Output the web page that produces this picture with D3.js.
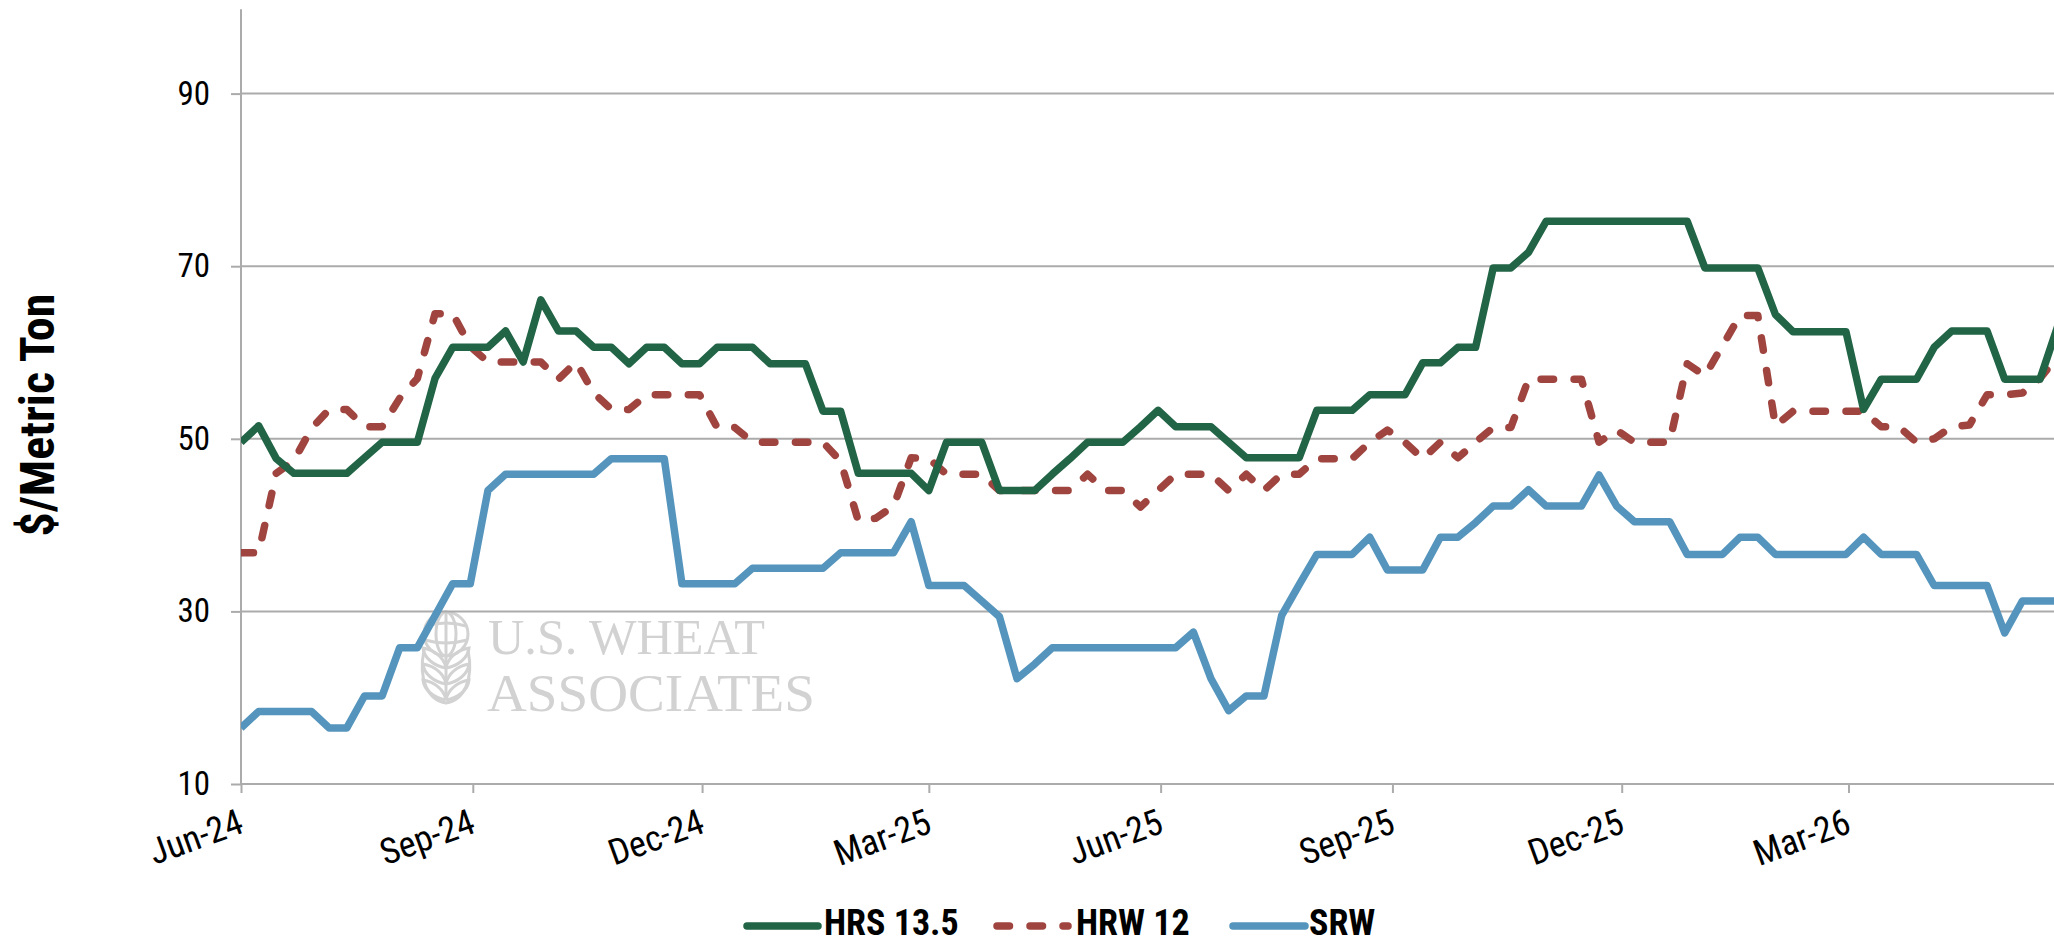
<!DOCTYPE html>
<html>
<head>
<meta charset="utf-8">
<script src="https://cdn.jsdelivr.net/npm/d3@7/dist/d3.min.js"></script>
<style>
  html, body { margin: 0; padding: 0; background: #ffffff; }
  svg { display: block; }
  .narrow { font-family: "Liberation Sans Narrow", "Arial Narrow", "Roboto Condensed", sans-serif; font-stretch: condensed; }
</style>
</head>
<body>
<svg id="chart" width="2054" height="944"></svg>
<script>
// ---------------- data ----------------
const weekDates = [
  "2024-06-01","2024-06-08","2024-06-15","2024-06-22","2024-06-29",
  "2024-07-06","2024-07-13","2024-07-20","2024-07-27",
  "2024-08-03","2024-08-10","2024-08-17","2024-08-24","2024-08-31",
  "2024-09-07","2024-09-14","2024-09-21","2024-09-28",
  "2024-10-05","2024-10-12","2024-10-19","2024-10-26",
  "2024-11-02","2024-11-09","2024-11-16","2024-11-23","2024-11-30",
  "2024-12-07","2024-12-14","2024-12-21","2024-12-28",
  "2025-01-04","2025-01-11","2025-01-18","2025-01-25",
  "2025-02-01","2025-02-08","2025-02-15","2025-02-22",
  "2025-03-01","2025-03-08","2025-03-15","2025-03-22","2025-03-29",
  "2025-04-05","2025-04-12","2025-04-19","2025-04-26",
  "2025-05-03","2025-05-10","2025-05-17","2025-05-24","2025-05-31",
  "2025-06-07","2025-06-14","2025-06-21","2025-06-28",
  "2025-07-05","2025-07-12","2025-07-19","2025-07-26",
  "2025-08-02","2025-08-09","2025-08-16","2025-08-23","2025-08-30",
  "2025-09-06","2025-09-13","2025-09-20","2025-09-27",
  "2025-10-04","2025-10-11","2025-10-18","2025-10-25",
  "2025-11-01","2025-11-08","2025-11-15","2025-11-22","2025-11-29",
  "2025-12-06","2025-12-13","2025-12-20","2025-12-27",
  "2026-01-03","2026-01-10","2026-01-17","2026-01-24","2026-01-31",
  "2026-02-07","2026-02-14","2026-02-21","2026-02-28",
  "2026-03-07","2026-03-14","2026-03-21","2026-03-28",
  "2026-04-04","2026-04-11","2026-04-18","2026-04-25",
  "2026-05-02","2026-05-09","2026-05-16","2026-05-23"
];

const hrs135 = [
  49.6,51.5,47.7,46.0,46.0,46.0,46.0,47.8,49.6,49.6,
  49.6,57.0,60.6,60.6,60.6,62.5,58.9,66.1,62.5,62.5,
  60.6,60.6,58.7,60.6,60.6,58.7,58.7,60.6,60.6,60.6,
  58.7,58.7,58.7,53.2,53.2,46.0,46.0,46.0,46.0,44.0,
  49.6,49.6,49.6,44.0,44.0,44.0,45.9,47.7,49.6,49.6,
  49.6,51.4,53.3,51.4,51.4,51.4,49.6,47.8,47.8,47.8,
  47.8,53.3,53.3,53.3,55.1,55.1,55.1,58.8,58.8,60.6,
  60.6,69.8,69.8,71.6,75.2,75.2,75.2,75.2,75.2,75.2,
  75.2,75.2,75.2,69.8,69.8,69.8,69.8,64.4,62.4,62.4,
  62.4,62.4,53.4,56.9,56.9,56.9,60.6,62.5,62.5,62.5,
  56.9,56.9,56.9,63.0
];

const hrw12 = [
  36.8,36.8,46.0,47.5,51.2,53.4,53.4,51.4,51.4,54.7,
  57.0,64.5,64.5,60.7,58.9,58.9,58.9,58.9,56.9,58.9,
  55.3,53.4,53.4,55.1,55.1,55.1,55.1,51.3,51.3,49.6,
  49.6,49.6,49.6,49.6,47.4,40.5,40.8,42.2,47.8,47.7,
  45.9,45.9,45.9,44.0,44.0,44.0,44.0,44.0,45.9,44.0,
  44.0,42.1,44.0,45.9,45.9,45.9,44.0,45.9,44.0,45.9,
  45.9,47.7,47.7,47.7,49.6,51.0,49.6,47.7,49.6,47.8,
  49.6,51.3,51.3,56.9,56.9,56.9,56.9,49.6,51.0,49.6,
  49.6,49.6,58.7,57.3,60.8,64.3,64.3,51.5,53.2,53.2,
  53.2,53.2,53.2,51.4,51.4,49.6,50.0,51.4,51.6,55.1,
  55.1,55.3,57.0,59.5
];

const srw = [
  16.5,18.4,18.4,18.4,18.4,16.5,16.5,20.2,20.2,25.8,
  25.8,29.5,33.2,33.2,44.0,45.9,45.9,45.9,45.9,45.9,
  45.9,47.7,47.7,47.7,47.7,33.2,33.2,33.2,33.2,35.0,
  35.0,35.0,35.0,35.0,36.8,36.8,36.8,36.8,40.4,33.0,
  33.0,33.0,31.2,29.4,22.2,23.9,25.8,25.8,25.8,25.8,
  25.8,25.8,25.8,25.8,27.6,22.2,18.5,20.2,20.2,29.5,
  33.1,36.6,36.6,36.6,38.6,34.8,34.8,34.8,38.6,38.6,
  40.3,42.2,42.2,44.1,42.2,42.2,42.2,45.8,42.2,40.4,
  40.4,40.4,36.6,36.6,36.6,38.6,38.6,36.6,36.6,36.6,
  36.6,36.6,38.6,36.6,36.6,36.6,33.0,33.0,33.0,33.0,
  27.5,31.2,31.2,31.2
];

const seriesNames = ["HRS 13.5", "HRW 12", "SRW"];
const xTickDates = ["2024-06-01","2024-09-01","2024-12-01","2025-03-01","2025-06-01","2025-09-01","2025-12-01","2026-03-01"];
const xTickLabels = ["Jun-24","Sep-24","Dec-24","Mar-25","Jun-25","Sep-25","Dec-25","Mar-26"];
const yTickValues = [10, 30, 50, 70, 90];
const yTitle = "$/Metric Ton";
const watermarkLines = ["U.S. WHEAT", "ASSOCIATES"];

// ---------------- setup ----------------
const W = 2054, H = 944;
const parse = d3.utcParse("%Y-%m-%d");
const dates = weekDates.map(parse);

const plot = { left: 241, right: 2057.6, top: 7.3, bottom: 784 };
const x = d3.scaleUtc()
  .domain([parse("2024-06-01"), parse("2026-05-23")])
  .range([plot.left, plot.right]);
const y = d3.scaleLinear().domain([10, 100]).range([plot.bottom, plot.top]);

const colors = { "HRS 13.5": "#226446", "HRW 12": "#a0443f", "SRW": "#5595bd" };
const dashes = { "HRS 13.5": null, "HRW 12": "12.5 20.5", "SRW": null };
const valuesByName = { "HRS 13.5": hrs135, "HRW 12": hrw12, "SRW": srw };
const gridColor = "#ababab";
const lineW = 7.5;

const svg = d3.select("#chart");
svg.append("rect").attr("width", W).attr("height", H).attr("fill", "#fff");

// ---------------- watermark ----------------
const wm = svg.append("g").attr("fill", "none").attr("stroke", "#d2d2d2").attr("stroke-width", 3);
wm.append("circle").attr("cx", 446).attr("cy", 634).attr("r", 22);
wm.append("ellipse").attr("cx", 446).attr("cy", 634).attr("rx", 10).attr("ry", 22);
wm.append("line").attr("x1", 446).attr("x2", 446).attr("y1", 612).attr("y2", 700);
wm.append("path").attr("d", "M426,626 Q446,620 466,626");
wm.append("path").attr("d", "M425,640 Q446,646 467,640");
[652, 668, 684].forEach(yy => {
  wm.append("path").attr("d", `M446,${yy + 16} C434,${yy + 14} 424,${yy + 6} 423,${yy - 4} C434,${yy - 2} 444,${yy + 5} 446,${yy + 16}`);
  wm.append("path").attr("d", `M446,${yy + 16} C458,${yy + 14} 468,${yy + 6} 469,${yy - 4} C458,${yy - 2} 448,${yy + 5} 446,${yy + 16}`);
});
wm.append("path").attr("d", "M424,650 C418,680 428,700 446,703 C464,700 474,680 468,650");

const wmG = svg.append("g").attr("fill", "#d2d2d2")
  .attr("font-family", "'Liberation Serif', 'Times New Roman', serif");
wmG.append("text").attr("x", 488).attr("y", 654).attr("font-size", 50)
  .attr("textLength", 277).attr("lengthAdjust", "spacingAndGlyphs").text(watermarkLines[0]);
wmG.append("text").attr("x", 487).attr("y", 711).attr("font-size", 52)
  .attr("textLength", 328).attr("lengthAdjust", "spacingAndGlyphs").text(watermarkLines[1]);

// ---------------- gridlines ----------------
svg.append("g").selectAll("line").data(yTickValues.filter(v => v > 10)).join("line")
  .attr("x1", plot.left).attr("x2", W)
  .attr("y1", d => y(d)).attr("y2", d => y(d))
  .attr("stroke", gridColor).attr("stroke-width", 2);

// ---------------- axes ----------------
const yAxis = svg.append("g").attr("transform", `translate(${plot.left},0)`)
  .call(d3.axisLeft(y).tickValues(yTickValues).tickSize(10).tickPadding(21).tickSizeOuter(0));
yAxis.select(".domain").remove();
yAxis.append("line").attr("x1", 0).attr("x2", 0).attr("y1", plot.top + 2).attr("y2", plot.bottom)
  .attr("stroke", gridColor).attr("stroke-width", 2);
yAxis.selectAll(".tick line").attr("stroke", gridColor).attr("stroke-width", 2);
yAxis.selectAll(".tick text").attr("class", "narrow").attr("font-size", 33).attr("fill", "#000");

const xAxis = svg.append("g").attr("transform", `translate(0,${plot.bottom})`)
  .call(d3.axisBottom(x).tickValues(xTickDates.map(parse)).tickSize(9)
    .tickFormat((d, i) => xTickLabels[i]).tickSizeOuter(0));
xAxis.select(".domain").remove();
xAxis.append("line").attr("x1", plot.left).attr("x2", W).attr("y1", 0).attr("y2", 0)
  .attr("stroke", gridColor).attr("stroke-width", 2);
xAxis.selectAll(".tick line").attr("stroke", gridColor).attr("stroke-width", 2);
xAxis.selectAll(".tick text")
  .attr("class", "narrow").attr("font-size", 36).attr("fill", "#000")
  .attr("text-anchor", "end").attr("y", 0).attr("dy", 0)
  .attr("transform", "translate(4,48) rotate(-20)");

// y title
svg.append("text").attr("class", "narrow")
  .attr("transform", "translate(54,415) rotate(-90)")
  .attr("text-anchor", "middle").attr("font-size", 48).attr("font-weight", "bold")
  .attr("fill", "#000").text(yTitle);

// ---------------- lines ----------------
const line = d3.line().x((d, i) => x(dates[i])).y(d => y(d));
svg.append("defs").append("clipPath").attr("id", "plotclip")
  .append("rect").attr("x", plot.left).attr("y", 0).attr("width", W - plot.left).attr("height", plot.bottom + 6);

const linesG = svg.append("g").attr("clip-path", "url(#plotclip)");
seriesNames.slice().reverse().forEach(name => {
  linesG.append("path").datum(valuesByName[name])
    .attr("d", line)
    .attr("fill", "none")
    .attr("stroke", colors[name])
    .attr("stroke-width", lineW)
    .attr("stroke-linejoin", "round")
    .attr("stroke-linecap", dashes[name] ? "round" : "butt")
    .attr("stroke-dasharray", dashes[name]);
});

// ---------------- legend ----------------
const legendItems = [
  { name: "HRS 13.5", x0: 747, x1: 818, tx: 824 },
  { name: "HRW 12", x0: 997, x1: 1068, tx: 1076 },
  { name: "SRW", x0: 1233, x1: 1305, tx: 1309 }
];
const lg = svg.append("g");
legendItems.forEach(it => {
  lg.append("line").attr("x1", it.x0).attr("x2", it.x1).attr("y1", 926).attr("y2", 926)
    .attr("stroke", colors[it.name]).attr("stroke-width", lineW)
    .attr("stroke-linecap", "round")
    .attr("stroke-dasharray", dashes[it.name]);
  lg.append("text").attr("class", "narrow").attr("x", it.tx).attr("y", 935)
    .attr("font-size", 36).attr("font-weight", "bold").attr("fill", "#000").text(it.name);
});
</script>
</body>
</html>
